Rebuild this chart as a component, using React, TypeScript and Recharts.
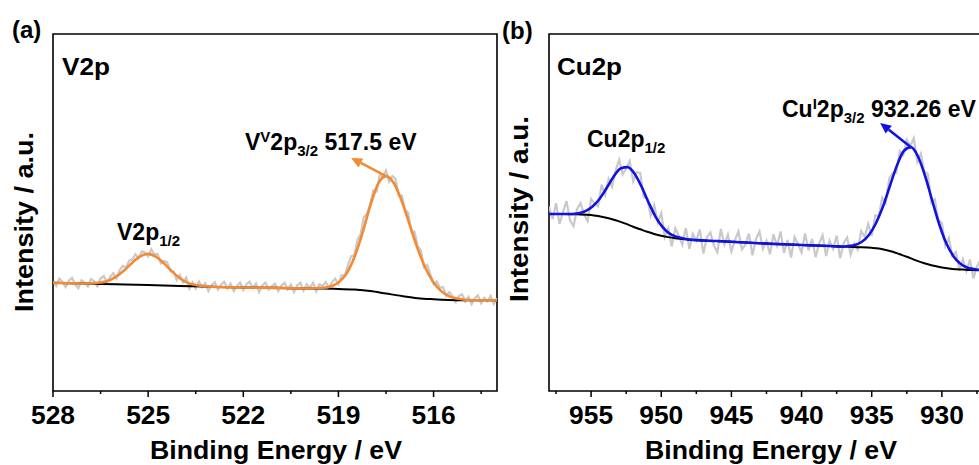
import React from "react";
import { LineChart, Line, XAxis, YAxis, ReferenceArea, ReferenceLine } from "recharts";

const FONT = '"Liberation Sans", Arial, Helvetica, sans-serif';

// ---- panel (a): V2p ----
const V_TICKS_MAJOR = [528, 525, 522, 519, 516];
const V_TICKS_MINOR = [526.5, 523.5, 520.5, 517.5, 514.5];

// raw spectrum, 0.1 eV steps from 528.0 down to 514.0
const V_RAW_START = 528;
const V_RAW_STEP = 0.1;
const V_RAW = [
  30.7, 29.4, 31.5, 30.5, 29.1, 30.9, 31.7, 29.8, 28.8, 31.0,
  30.3, 29.3, 31.4, 30.7, 29.3, 31.5, 32.2, 30.5, 31.9, 33.0,
  31.5, 33.8, 35.1, 34.5, 36.5, 36.9, 38.3, 37.2, 39.1, 38.8,
  37.7, 39.7, 38.2, 38.4, 35.8, 36.4, 36.1, 33.5, 33.5, 31.1,
  32.5, 30.4, 31.8, 28.7, 30.4, 28.7, 30.7, 29.1, 30.2, 28.0,
  29.6, 30.5, 28.4, 29.8, 30.6, 28.7, 30.1, 28.0, 29.4, 30.4,
  28.3, 29.9, 30.6, 28.8, 30.1, 27.7, 29.6, 30.4, 28.4, 29.3,
  30.1, 28.0, 29.5, 30.3, 28.5, 29.8, 27.7, 29.6, 30.3, 28.1,
  29.9, 28.9, 30.3, 27.9, 29.9, 29.4, 30.5, 28.8, 30.5, 31.5,
  29.9, 32.4, 32.4, 35.2, 37.7, 38.0, 42.3, 44.0, 48.7, 49.6,
  52.3, 56.2, 55.9, 60.5, 60.1, 61.8, 58.6, 60.2, 59.4, 54.7,
  54.7, 50.8, 49.9, 44.5, 44.6, 40.6, 39.4, 34.7, 35.3, 32.7,
  29.9, 30.7, 29.0, 29.1, 26.6, 27.7, 26.5, 24.9, 26.6, 27.1,
  25.0, 26.4, 24.3, 26.0, 26.8, 24.6, 26.1, 25.1, 26.6, 24.4,
  26.0,
];

const V_FIT_E = [
  528, 527.5, 527, 526.75, 526.5, 526.25, 526, 525.75, 525.5, 525.25, 525,
  524.75, 524.5, 524.25, 524, 523.75, 523.5, 523.25, 523, 522, 521, 520,
  519.5, 519.25, 519, 518.75, 518.5, 518.25, 518, 517.75, 517.5, 517.25, 517,
  516.75, 516.5, 516.25, 516, 515.75, 515.5, 515.25, 515, 514.5, 514,
];
const V_FIT = [
  30.3, 30.2, 30.1, 30.2, 30.4, 30.9, 32.1, 33.8, 35.95, 37.7, 38.4,
  37.6, 35.75, 33.5, 31.6, 30.3, 29.7, 29.4, 29.2, 29.0, 28.9, 28.7,
  28.9, 29.3, 30.4, 32.8, 37.4, 44.0, 51.8, 58.0, 60.2, 58.2, 53.1,
  46.5, 39.8, 34.3, 30.4, 27.9, 26.5, 25.9, 25.55, 25.4, 25.4,
];

const V_BG_E = [528, 527, 526, 525, 524, 523, 522, 521, 520, 519.5, 519, 518.5, 518, 517.5, 517, 516.5, 516, 515.5, 515, 514];
const V_BG = [30.3, 30.1, 29.9, 29.7, 29.4, 29.2, 29.0, 28.9, 28.7, 28.7, 28.6, 28.4, 28.0, 27.3, 26.6, 26.0, 25.7, 25.5, 25.4, 25.4];

// ---- panel (b): Cu2p ----
const CU_TICKS_MAJOR = [955, 950, 945, 940, 935, 930];
const CU_TICKS_MINOR = [957.5, 952.5, 947.5, 942.5, 937.5, 932.5, 927.5];

// raw spectrum, 0.25 eV steps from 958.00 down to 926.00
const CU_RAW_START = 958;
const CU_RAW_STEP = 0.25;
const CU_RAW = [
  51.7, 48.1, 52.6, 46.8, 50.2, 53.2, 47.7, 46.2, 51.0, 52.6,
  49.4, 47.6, 53.8, 52.5, 51.7, 57.8, 55.0, 59.4, 57.2, 61.8,
  64.8, 60.7, 62.3, 64.4, 58.7, 61.3, 61.1, 54.3, 53.9, 49.1,
  52.1, 47.2, 49.8, 43.1, 45.5, 40.5, 45.6, 43.5, 41.0, 45.7,
  39.8, 44.0, 42.1, 45.2, 38.5, 43.0, 44.4, 40.8, 38.9, 45.4,
  41.0, 43.8, 39.1, 42.2, 44.7, 39.7, 41.0, 44.1, 38.0, 42.6,
  44.7, 39.8, 42.0, 38.3, 43.9, 40.7, 44.7, 38.7, 42.3, 37.4,
  43.1, 41.1, 38.8, 44.1, 39.4, 42.6, 37.5, 41.3, 43.6, 37.8,
  42.1, 39.8, 43.5, 37.2, 41.4, 43.0, 38.2, 41.3, 39.6, 44.8,
  43.2, 46.8, 43.4, 49.2, 49.1, 54.2, 52.7, 59.6, 61.0, 61.1,
  67.2, 66.1, 70.4, 68.7, 70.8, 64.2, 66.5, 61.5, 60.8, 52.7,
  53.7, 47.8, 47.1, 40.6, 42.8, 37.8, 39.0, 33.7, 36.9, 33.6,
  36.8, 31.6, 34.9, 36.7, 32.0, 34.6, 31.1, 35.7, 33.0,
];

const CU_FIT_E = [
  958, 957, 956.4, 955.9, 955.4, 954.9, 954.4, 953.9, 953.4, 952.9, 952.4,
  951.9, 951.4, 950.9, 950.4, 949.9, 949.4, 948.9, 948.4, 948, 946, 944, 942,
  940, 938, 937, 936.7, 936.2, 935.7, 935.2, 934.7, 934.2, 933.7, 933.2, 932.7,
  932.2, 931.7, 931.2, 930.7, 930.2, 929.7, 929.2, 928.7, 928.2, 927.7, 927, 926,
];
const CU_FIT = [
  49.6, 49.6, 49.6, 49.8, 50.4, 51.7, 53.8, 56.8, 60.0, 62.35, 62.7,
  60.85, 57.2, 52.8, 48.8, 45.9, 44.1, 43.2, 42.7, 42.4, 42.0, 41.6, 41.2,
  40.9, 40.6, 40.4, 40.6, 40.9, 41.8, 43.7, 47.0, 51.65, 57.5, 63.2, 67.3,
  68.3, 65.7, 60.3, 53.5, 46.85, 41.5, 37.9, 35.7, 34.6, 34.15, 33.85, 33.8,
];

const CU_BG_E = [
  958, 957, 956, 955, 954.5, 954, 953.5, 953, 952.5, 952, 951.5, 951, 950.5, 950,
  949.5, 949, 948.5, 948, 946, 944, 942, 940, 938, 936, 935, 934.5, 934, 933.5,
  933, 932.5, 932, 931.5, 931, 930.5, 930, 929.5, 929, 928.5, 928, 926,
];
const CU_BG = [
  49.6, 49.6, 49.5, 49.3, 49.0, 48.6, 48.1, 47.5, 46.8, 46.0, 45.3, 44.6, 44.0, 43.5,
  43.1, 42.8, 42.6, 42.4, 42.0, 41.6, 41.2, 40.9, 40.6, 40.3, 40.1, 39.9, 39.5, 39.0,
  38.3, 37.6, 36.8, 36.1, 35.5, 35.0, 34.6, 34.3, 34.1, 34.0, 33.9, 33.8,
];

const gridRows = (start: number, step: number, vals: number[]) =>
  vals.map((v, i) => ({ e: +(start - i * step).toFixed(2), v }));
const pairRows = (es: number[], vals: number[]) => es.map((e, i) => ({ e, v: vals[i] }));

const makeTick = (major: number[]) => (props: any) => {
  const { x, y, payload } = props;
  const isMajor = major.includes(payload.value);
  return (
    <g>
      <line x1={x} x2={x} y1={y} y2={y + (isMajor ? 6 : 3)} stroke="#000" strokeWidth={1.5} />
      {isMajor && (
        <text
          x={x}
          y={y + 33}
          textAnchor="middle"
          fontSize={25}
          fontWeight={700}
          fontFamily={FONT}
          fill="#000"
          textLength={44}
          lengthAdjust="spacingAndGlyphs"
          style={{ fontWeight: 700 }}
        >
          {payload.value}
        </text>
      )}
    </g>
  );
};

const arrowShape = (color: string) => (props: any) => {
  const { x1, y1, x2, y2 } = props;
  const a = Math.atan2(y2 - y1, x2 - x1);
  const L = 11;
  const W = 5;
  const bx = x2 - L * Math.cos(a);
  const by = y2 - L * Math.sin(a);
  const pts = `${x2},${y2} ${bx + W * Math.sin(a)},${by - W * Math.cos(a)} ${bx - W * Math.sin(a)},${by + W * Math.cos(a)}`;
  return (
    <g>
      <line x1={x1} y1={y1} x2={bx} y2={by} stroke={color} strokeWidth={2.5} />
      <polygon points={pts} fill={color} />
    </g>
  );
};

interface PanelProps {
  left: number;
  width: number;
  margin: { top: number; right: number; bottom: number; left: number };
  domain: [number, number];
  major: number[];
  minor: number[];
  raw: { e: number; v: number }[];
  fit: { e: number; v: number }[];
  bg: { e: number; v: number }[];
  color: string;
  arrow: [{ x: number; y: number }, { x: number; y: number }];
}

function Panel(p: PanelProps) {
  const ticks = [...p.major, ...p.minor].sort((a, b) => b - a);
  return (
    <div style={{ position: "absolute", left: p.left, top: 0 }}>
      <LineChart width={p.width} height={465} margin={p.margin}>
        <XAxis
          dataKey="e"
          type="number"
          domain={p.domain}
          reversed
          allowDataOverflow
          ticks={ticks}
          interval={0}
          tickSize={0}
          tickMargin={0}
          axisLine={false}
          tickLine={false}
          tick={makeTick(p.major)}
          height={30}
        />
        <YAxis hide type="number" domain={[0, 100]} allowDataOverflow />
        <Line data={p.raw} dataKey="v" type="linear" stroke="#c9c9c9" strokeWidth={2.2} dot={false} isAnimationActive={false} />
        <Line data={p.bg} dataKey="v" type="monotone" stroke="#000" strokeWidth={2} dot={false} isAnimationActive={false} />
        <Line data={p.fit} dataKey="v" type="monotone" stroke={p.color} strokeWidth={2.6} dot={false} isAnimationActive={false} />
        <ReferenceLine segment={p.arrow} shape={arrowShape(p.color)} />
        <ReferenceArea x1={p.domain[0]} x2={p.domain[1]} y1={0} y2={100} fill="none" stroke="#000" strokeWidth={1.6} />
      </LineChart>
    </div>
  );
}

const txt = { fontFamily: FONT, fontWeight: "bold" as const, fill: "#000" };

export default function App() {
  return (
    <div
      style={{
        position: "absolute",
        left: 0,
        top: 0,
        width: 979,
        height: 465,
        overflow: "hidden",
        background: "#fff",
      }}
    >
      <Panel
        left={0}
        width={510}
        margin={{ top: 34, right: 13, bottom: 44, left: 53 }}
        domain={[514, 528]}
        major={V_TICKS_MAJOR}
        minor={V_TICKS_MINOR}
        raw={gridRows(V_RAW_START, V_RAW_STEP, V_RAW)}
        fit={pairRows(V_FIT_E, V_FIT)}
        bg={pairRows(V_BG_E, V_BG)}
        color="#f28a36"
        arrow={[{ x: 517.5, y: 60.2 }, { x: 518.6, y: 65.3 }]}
      />
      <Panel
        left={500}
        width={520}
        margin={{ top: 34, right: 22, bottom: 44, left: 49 }}
        domain={[926, 958]}
        major={CU_TICKS_MAJOR}
        minor={CU_TICKS_MINOR}
        raw={gridRows(CU_RAW_START, CU_RAW_STEP, CU_RAW)}
        fit={pairRows(CU_FIT_E, CU_FIT)}
        bg={pairRows(CU_BG_E, CU_BG)}
        color="#1212e0"
        arrow={[{ x: 932.2, y: 68.3 }, { x: 934.4, y: 75.1 }]}
      />
      <svg
        width={979}
        height={465}
        style={{ position: "absolute", left: 0, top: 0, pointerEvents: "none" }}
      >
        {/* panel letters and element labels */}
        <text x={12} y={38} fontSize={24} {...txt}>(a)</text>
        <text x={502} y={39} fontSize={24} {...txt}>(b)</text>
        <text x={62} y={75} fontSize={23} textLength={48} lengthAdjust="spacingAndGlyphs" {...txt}>V2p</text>
        <text x={557} y={75} fontSize={23} textLength={65} lengthAdjust="spacingAndGlyphs" {...txt}>Cu2p</text>

        {/* peak annotations */}
        <text x={245} y={150} fontSize={23} {...txt}>
          V<tspan fontSize={15} dy={-8}>V</tspan>
          <tspan dy={8}>2p</tspan>
          <tspan fontSize={15} dy={6}>3/2</tspan>
          <tspan dy={-6}>{" 517.5 eV"}</tspan>
        </text>
        <text x={117} y={240} fontSize={23} {...txt}>
          V2p<tspan fontSize={15} dy={6}>1/2</tspan>
        </text>
        <text x={782} y={117} fontSize={23} {...txt}>
          Cu<tspan fontSize={15} dy={-8}>I</tspan>
          <tspan dy={8}>2p</tspan>
          <tspan fontSize={15} dy={6}>3/2</tspan>
          <tspan dy={-6}>{" 932.26 eV"}</tspan>
        </text>
        <text x={587} y={147} fontSize={23} {...txt}>
          Cu2p<tspan fontSize={15} dy={6}>1/2</tspan>
        </text>

        {/* axis titles */}
        <text x={276} y={459} fontSize={25} textAnchor="middle" textLength={252} lengthAdjust="spacingAndGlyphs" {...txt}>
          Binding Energy / eV
        </text>
        <text x={771} y={459} fontSize={25} textAnchor="middle" textLength={252} lengthAdjust="spacingAndGlyphs" {...txt}>
          Binding Energy / eV
        </text>
        <text
          x={0}
          y={0}
          fontSize={25}
          textAnchor="middle"
          textLength={180}
          lengthAdjust="spacingAndGlyphs"
          transform="translate(33,222) rotate(-90)"
          {...txt}
        >
          Intensity / a.u.
        </text>
        <text
          x={0}
          y={0}
          fontSize={25}
          textAnchor="middle"
          textLength={186}
          lengthAdjust="spacingAndGlyphs"
          transform="translate(528,209) rotate(-90)"
          {...txt}
        >
          Intensity / a.u.
        </text>
      </svg>
    </div>
  );
}
